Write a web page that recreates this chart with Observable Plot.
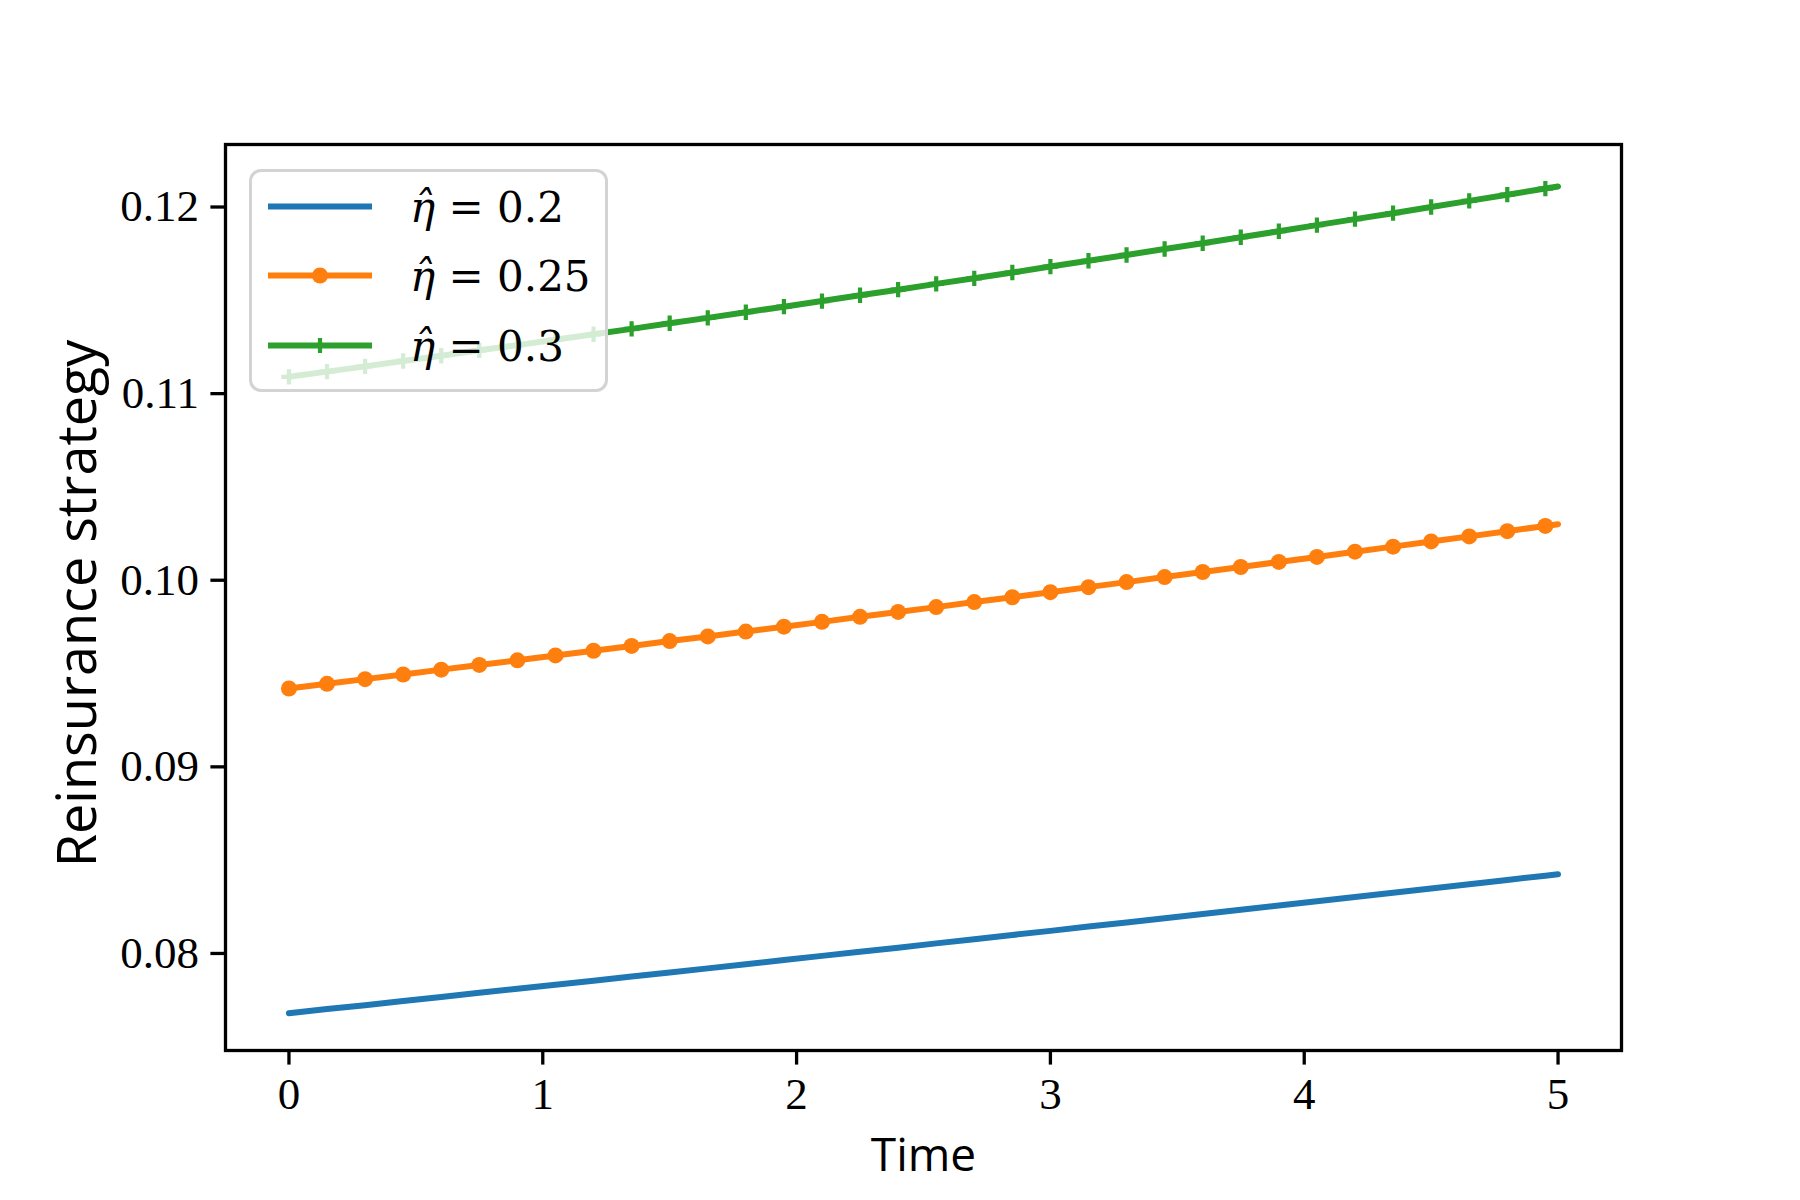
<!DOCTYPE html>
<html>
<head>
<meta charset="utf-8">
<script src="https://cdn.jsdelivr.net/npm/d3@7"></script>
<script src="https://cdn.jsdelivr.net/npm/@observablehq/plot@0.6"></script>
<style>
  html, body { margin: 0; padding: 0; background: #fff; }
  #wrap { position: relative; width: 1800px; height: 1200px; }
  #legend {
    position: absolute; left: 249px; top: 169px; width: 353px; height: 217px;
    background: rgba(255,255,255,0.8); border: 3.3px solid #d3d3d3; border-radius: 12px;
    box-sizing: content-box;
  }
  #legend svg { position: absolute; left: 0; top: 0; }
</style>
</head>
<body>
<div id="wrap"></div>
<script>
// Time points (markers every 0.15, line ends at 5)
const time = [0, 0.15, 0.30, 0.45, 0.60, 0.75, 0.90, 1.05, 1.20, 1.35, 1.50, 1.65, 1.80, 1.95, 2.10, 2.25, 2.40,
  2.55, 2.70, 2.85, 3.00, 3.15, 3.30, 3.45, 3.60, 3.75, 3.90, 4.05, 4.20, 4.35, 4.50, 4.65, 4.80, 4.95, 5.00];

const eta020 = [0.07680, 0.07702, 0.07723, 0.07745, 0.07767, 0.07789, 0.07811, 0.07832, 0.07854, 0.07876, 0.07898,
  0.07920, 0.07942, 0.07965, 0.07987, 0.08009, 0.08031, 0.08054, 0.08076, 0.08099, 0.08121, 0.08144, 0.08166,
  0.08189, 0.08211, 0.08234, 0.08257, 0.08280, 0.08302, 0.08325, 0.08348, 0.08371, 0.08394, 0.08417, 0.08425];

const eta025 = [0.09420, 0.09445, 0.09470, 0.09495, 0.09521, 0.09546, 0.09571, 0.09597, 0.09622, 0.09648, 0.09674,
  0.09699, 0.09725, 0.09751, 0.09777, 0.09804, 0.09830, 0.09856, 0.09883, 0.09909, 0.09936, 0.09963, 0.09990,
  0.10017, 0.10044, 0.10071, 0.10098, 0.10125, 0.10153, 0.10180, 0.10208, 0.10235, 0.10263, 0.10291, 0.10300];

const eta030 = [0.11090, 0.11118, 0.11146, 0.11175, 0.11203, 0.11232, 0.11260, 0.11289, 0.11318, 0.11347, 0.11377,
  0.11406, 0.11436, 0.11466, 0.11496, 0.11527, 0.11557, 0.11588, 0.11618, 0.11649, 0.11681, 0.11712, 0.11743,
  0.11775, 0.11806, 0.11838, 0.11870, 0.11903, 0.11935, 0.11967, 0.12000, 0.12033, 0.12066, 0.12099, 0.12110];

const xTicks = [0, 1, 2, 3, 4, 5];
const yTicks = [0.08, 0.09, 0.10, 0.11, 0.12];
const seriesLabels = ["0.2", "0.25", "0.3"];
const colors = ["#1f77b4", "#ff7f0e", "#2ca02c"];

const rows = (vals) => time.map((t, i) => ({t, v: vals[i], i}));
const s1 = rows(eta020), s2 = rows(eta025), s3 = rows(eta030);
const markerCount = 34;

const tickSerif = "'Liberation Serif', 'DejaVu Serif', serif";
const legendSerif = "'DejaVu Serif', 'Liberation Serif', serif";
const sans = "'Open Sans', 'Noto Sans', sans-serif";

const chart = Plot.plot({
  width: 1800,
  height: 1200,
  marginLeft: 225,
  marginRight: 179,
  marginTop: 144,
  marginBottom: 150,
  style: {background: "white", overflow: "visible"},
  x: {domain: [-0.25, 5.25]},
  y: {domain: [0.0748, 0.12335]},
  marks: [
    Plot.line(s1, {x: "t", y: "v", stroke: colors[0], strokeWidth: 6}),
    Plot.line(s2, {x: "t", y: "v", stroke: colors[1], strokeWidth: 6}),
    Plot.dot(s2.filter(d => d.i < markerCount), {x: "t", y: "v", r: 8, fill: colors[1], stroke: "none"}),
    Plot.line(s3, {x: "t", y: "v", stroke: colors[2], strokeWidth: 6}),
    Plot.dot(s3.filter(d => d.i < markerCount), {x: "t", y: "v", r: 5, symbol: "plus", stroke: colors[2], strokeWidth: 4.2}),
    Plot.frame({stroke: "black", strokeWidth: 3.3}),
    Plot.axisX({ticks: xTicks, tickSize: 14.6, tickPadding: 12, strokeWidth: 3.3, fontSize: 45,
      fontFamily: tickSerif, tickFormat: d3.format("d"), label: null, color: "black"}),
    Plot.axisY({ticks: yTicks, tickSize: 14.6, tickPadding: 12, strokeWidth: 3.3, fontSize: 45,
      fontFamily: tickSerif, tickFormat: d3.format(".2f"), label: null, color: "black"}),
    Plot.text(["Time"], {frameAnchor: "bottom", dy: 106, lineAnchor: "middle", fontSize: 46,
      fontFamily: sans, fill: "black"}),
    Plot.text(["Reinsurance strategy"], {frameAnchor: "left", dx: -147, dy: 6, rotate: -90, textAnchor: "middle",
      lineAnchor: "middle", fontSize: 54, fontFamily: sans, fill: "black"})
  ]
});

const wrap = document.getElementById("wrap");
wrap.appendChild(chart);

// Legend overlay (semi-transparent like matplotlib)
const legend = document.createElement("div");
legend.id = "legend";
const ns = "http://www.w3.org/2000/svg";
const svg = document.createElementNS(ns, "svg");
svg.setAttribute("width", 360);
svg.setAttribute("height", 225);
const rowY = [34.5, 103.5, 173.5];
seriesLabels.forEach((lab, k) => {
  const y = rowY[k];
  const line = document.createElementNS(ns, "line");
  line.setAttribute("x1", 16); line.setAttribute("x2", 120);
  line.setAttribute("y1", y); line.setAttribute("y2", y);
  line.setAttribute("stroke", colors[k]); line.setAttribute("stroke-width", 6);
  svg.appendChild(line);
  if (k === 1) {
    const c = document.createElementNS(ns, "circle");
    c.setAttribute("cx", 68); c.setAttribute("cy", y); c.setAttribute("r", 8);
    c.setAttribute("fill", colors[k]);
    svg.appendChild(c);
  }
  if (k === 2) {
    const p = document.createElementNS(ns, "path");
    p.setAttribute("d", `M68,${y - 7.5}V${y + 7.5}M60.5,${y}H75.5`);
    p.setAttribute("stroke", colors[k]); p.setAttribute("stroke-width", 4.2);
    svg.appendChild(p);
  }
  const t = document.createElementNS(ns, "text");
  t.setAttribute("x", 158); t.setAttribute("y", y + 15);
  t.setAttribute("font-size", 42);
  t.setAttribute("font-family", legendSerif);
  const ti = document.createElementNS(ns, "tspan");
  ti.setAttribute("font-style", "italic");
  ti.textContent = "η\u0302";
  t.appendChild(ti);
  const tr = document.createElementNS(ns, "tspan");
  tr.textContent = " = " + lab;
  t.appendChild(tr);
  svg.appendChild(t);
});
legend.appendChild(svg);
wrap.appendChild(legend);
</script>
</body>
</html>
